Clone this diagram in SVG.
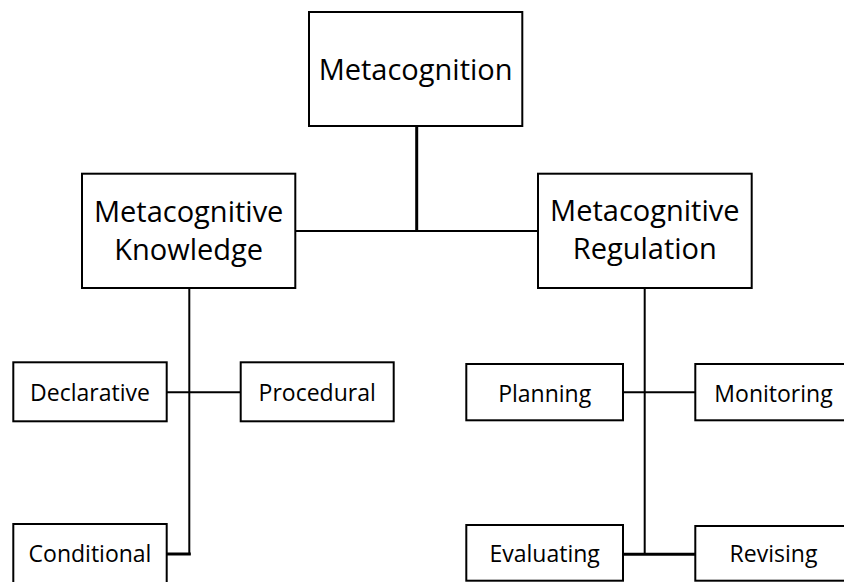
<svg xmlns="http://www.w3.org/2000/svg" width="844" height="582" viewBox="0 0 844 582">
<style>
.box{fill:#fff;stroke:#000;stroke-width:2}
.c{fill:none;stroke:#000;stroke-width:2}
.t{font-family:"Open Sans","Liberation Sans",sans-serif;fill:#000;text-anchor:middle}
.big{font-size:29px}
.sm{font-size:23px}
</style>
<rect width="844" height="582" fill="#fff"/>
<g id="connectors">
<path class="c" style="stroke-width:3" d="M416.7 126V231"/>
<path class="c" d="M295.3 231H538"/>
<path class="c" d="M189.3 288V555"/>
<path class="c" d="M166.7 392.3H240.7"/>
<path class="c" style="stroke-width:3" d="M166.7 554H190.8"/>
<path class="c" d="M644.7 288V554"/>
<path class="c" d="M623 392.3H695.3"/>
<path class="c" style="stroke-width:3" d="M623 554.3H695.3"/>
</g>
<g id="metacognition">
<rect class="box" x="309" y="12" width="213.3" height="114"/>
<text class="t big" x="415.6" y="80">Metacognition</text>
</g>
<g id="knowledge">
<rect class="box" x="82" y="173.7" width="213.3" height="114.3"/>
<text class="t big" x="188.7" y="222">Metacognitive</text>
<text class="t big" x="188.7" y="260">Knowledge</text>
</g>
<g id="regulation">
<rect class="box" x="538" y="173.7" width="213.7" height="114.3"/>
<text class="t big" x="644.8" y="221">Metacognitive</text>
<text class="t big" x="644.8" y="259.3">Regulation</text>
</g>
<g id="declarative">
<rect class="box" x="13.3" y="362.3" width="153.4" height="59"/>
<text class="t sm" x="90" y="401">Declarative</text>
</g>
<g id="procedural">
<rect class="box" x="240.7" y="362.3" width="153" height="59"/>
<text class="t sm" x="317.2" y="401">Procedural</text>
</g>
<g id="conditional">
<rect class="box" x="13.3" y="524" width="153.4" height="62"/>
<text class="t sm" x="90" y="561.5">Conditional</text>
</g>
<g id="planning">
<rect class="box" x="466.3" y="364" width="156.7" height="56.3"/>
<text class="t sm" x="544.7" y="401.7">Planning</text>
</g>
<g id="monitoring">
<rect class="box" x="695.3" y="364" width="156.7" height="56.3"/>
<text class="t sm" x="773.5" y="401.7">Monitoring</text>
</g>
<g id="evaluating">
<rect class="box" x="466.3" y="525" width="156.7" height="55.7"/>
<text class="t sm" x="544.7" y="561.7">Evaluating</text>
</g>
<g id="revising">
<rect class="box" x="695.3" y="526" width="156.7" height="54.7"/>
<text class="t sm" x="773.5" y="561.7">Revising</text>
</g>
</svg>
